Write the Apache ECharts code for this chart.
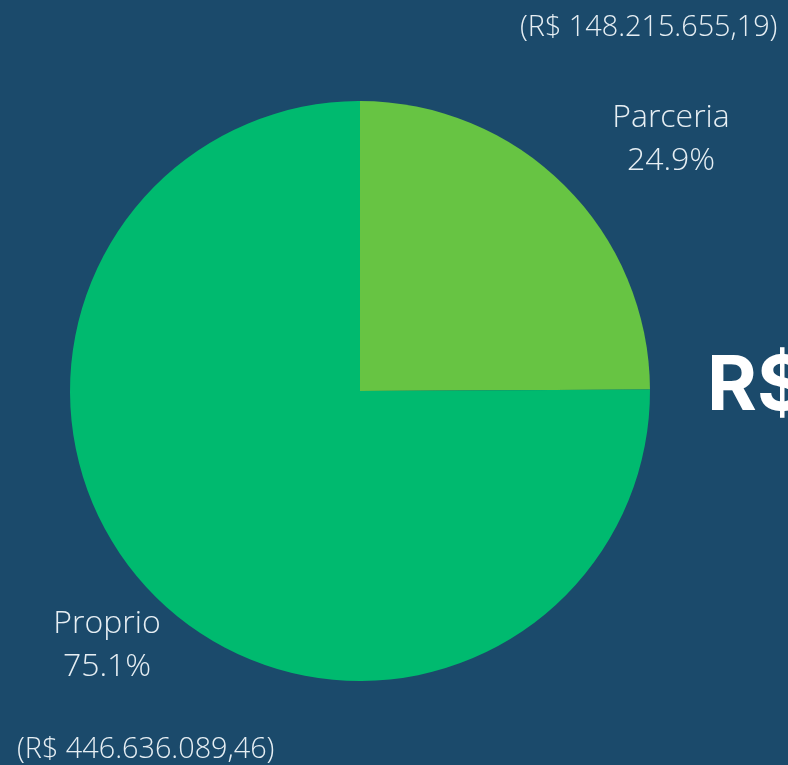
<!DOCTYPE html>
<html>
<head>
<meta charset="utf-8">
<script src="https://cdn.jsdelivr.net/npm/echarts@6/dist/echarts.min.js"></script>
<style>
html,body{margin:0;padding:0;background:#1b4a6b;}
#chart{width:788px;height:765px;}
</style>
</head>
<body>
<div id="chart"></div>
<script>
// dados
const categorias=['Parceria','Proprio'];
const valores=[148215655.19,446636089.46];
const cores=['#67c443','#00ba6f'];
const valoresTexto=['(R$ 148.215.655,19)','(R$ 446.636.089,46)'];

const labelPos=[[671,139],[107,645]];

let chart=echarts.init(document.getElementById('chart'));
chart.setOption({
    backgroundColor:'#1b4a6b',
    animation:false,
    textStyle:{fontFamily:'Open Sans'},
    graphic:[
        {type:'text',left:520,top:13,style:{text:valoresTexto[0],fill:'#e6eef3',font:'300 28.8px "Open Sans"'}},
        {type:'text',left:17,top:735,style:{text:valoresTexto[1],fill:'#e6eef3',font:'300 28.8px "Open Sans"'}},
        {type:'text',left:707,top:349,style:{text:'R$',fill:'#ffffff',font:'bold 76px Inter'}}
    ],
    series:[{
        type:'pie',
        center:[360,391],
        radius:290,
        startAngle:90,
        clockwise:true,
        data:categorias.map((c,i)=>({name:c,value:valores[i],itemStyle:{color:cores[i]}})),
        label:{
            show:true,
            position:'outside',
            formatter:p=>p.name+'\n'+p.percent.toFixed(1)+'%',
            color:'#e6eef3',
            fontFamily:'Open Sans',
            fontWeight:300,
            fontSize:32,
            lineHeight:43,
            align:'center',
            overflow:'none'
        },
        labelLine:{show:false},
        labelLayout:p=>({x:labelPos[p.dataIndex][0],y:labelPos[p.dataIndex][1],align:'center',verticalAlign:'middle'}),
        emphasis:{disabled:true}
    }]
});
</script>
</body>
</html>
